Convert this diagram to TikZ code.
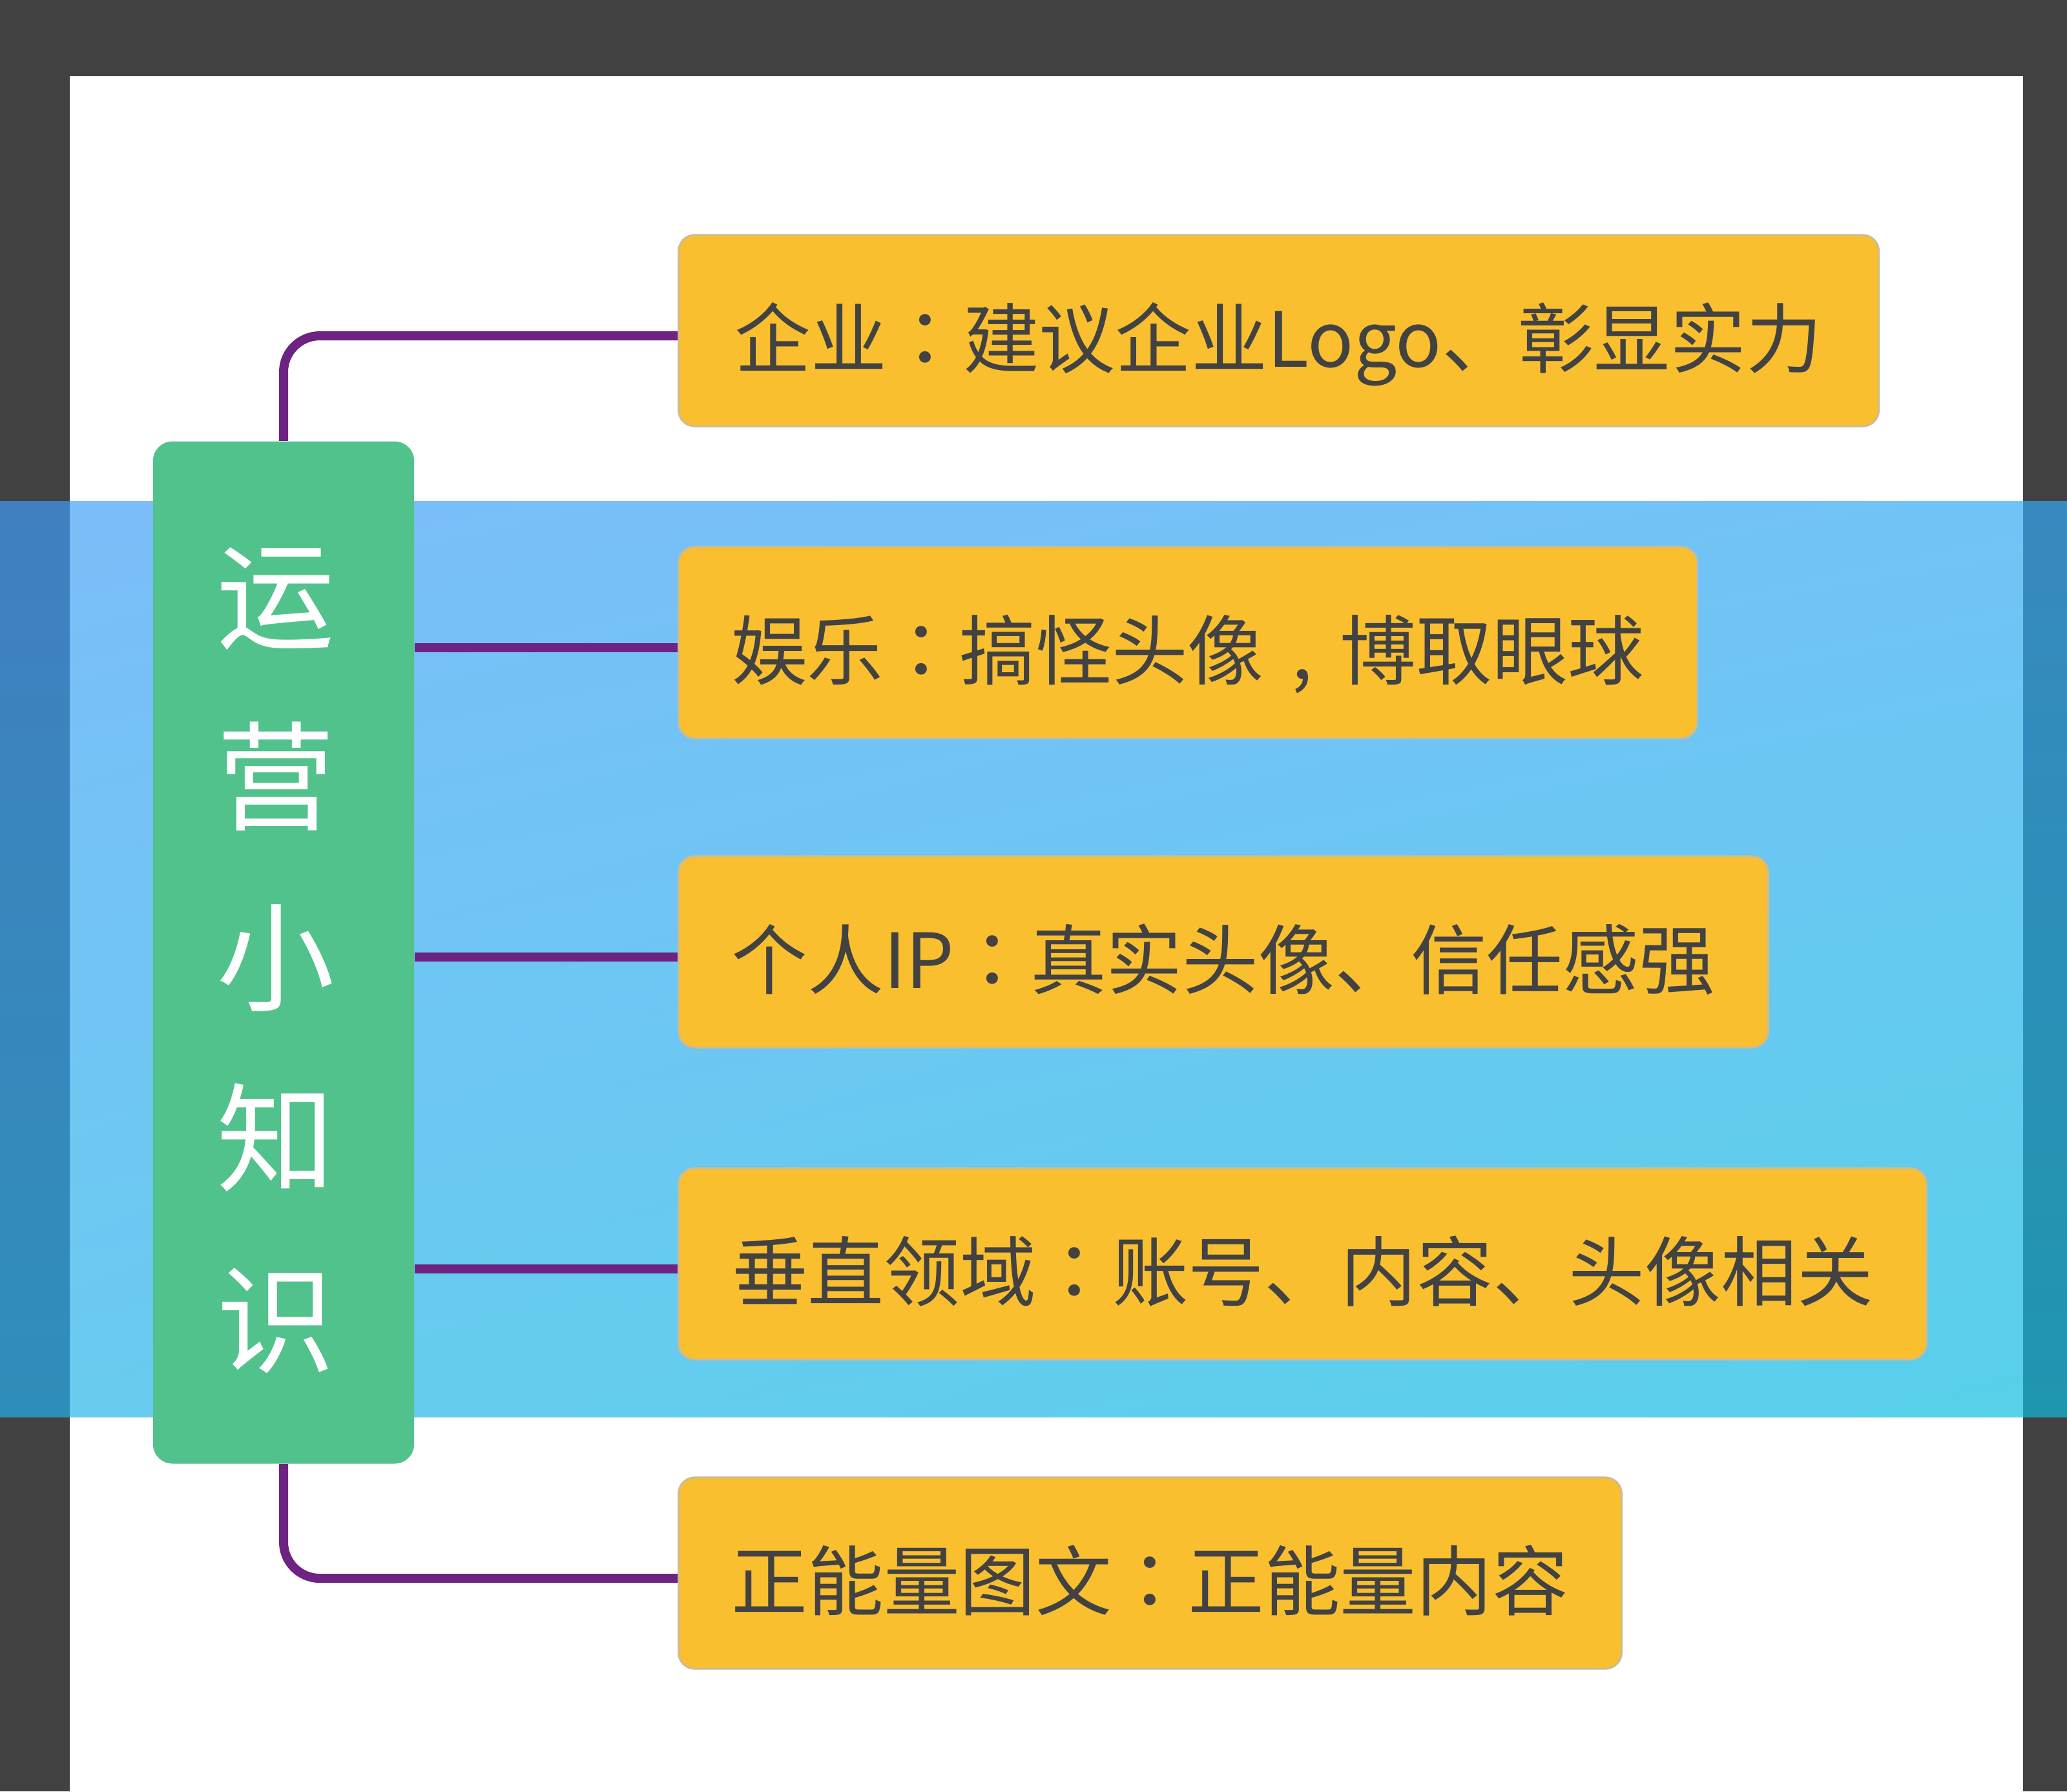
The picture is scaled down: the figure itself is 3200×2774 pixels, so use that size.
\documentclass[tikz,border=0pt]{standalone}
\usepackage{fontspec}
\usetikzlibrary{shadings}
\newfontfamily\cjk{Noto Sans CJK SC}
\newfontfamily\cjktc{Noto Sans CJK TC}
\newcommand{\cc}{{\cjktc ：}}
\newcommand{\ccomma}{\makebox[1em][c]{,}}
\definecolor{darkbg}{HTML}{414141}
\definecolor{greenfill}{HTML}{52C28C}
\definecolor{orangefill}{HTML}{F9BF2F}
\definecolor{boxline}{HTML}{CDBB94}
\definecolor{linepurple}{HTML}{6E2282}
\definecolor{textgray}{HTML}{424242}
\definecolor{bandUL}{HTML}{7BBDF9}
\definecolor{bandUR}{HTML}{72C3F5}
\definecolor{bandLL}{HTML}{69CBF0}
\definecolor{bandLR}{HTML}{57D0EA}
\definecolor{sideLT}{HTML}{4080C0}
\definecolor{sideLB}{HTML}{2F8EB9}
\definecolor{sideRT}{HTML}{3889BF}
\definecolor{sideRB}{HTML}{1F96B0}
\begin{document}
\begin{tikzpicture}[x=0.01cm,y=-0.01cm,
  rootbox/.style={fill=greenfill, rounded corners=0.3cm, minimum width=4.04cm, minimum height=15.82cm, inner sep=0pt},
  roottext/.style={align=center, text=white, inner sep=0pt, font=\cjk\fontsize{52}{79.7}\selectfont},
  leaf/.style={draw=boxline, line width=0.03cm, fill=orangefill, rounded corners=0.25cm, minimum height=2.96cm, inner sep=0pt, text height=38pt, text depth=6pt, anchor=west, text=textgray, font=\cjk\fontsize{33.5}{40}\selectfont},
  conn/.style={draw=linepurple, line width=0.14cm}]
\useasboundingbox (0,0) rectangle (3200,2774);
\fill[darkbg] (0,0) rectangle (3200,2774);
\fill[white] (108,118) rectangle (3132,2774);
\shade[top color=sideLT, bottom color=sideLB] (0,776) rectangle (108,2194);
\shade[upper left=bandUL, upper right=bandUR, lower left=bandLL, lower right=bandLR] (108,776) rectangle (3132,2194);
\shade[top color=sideRT, bottom color=sideRB] (3132,776) rectangle (3200,2194);
\node[rootbox, label={[roottext, xshift=-0.12cm, yshift=-0.12cm]center:运\\营\\小\\知\\识}] (g) at (439,1475) {};
\node[leaf, minimum width=18.57cm] (b1) at (1049,512) {企业\cc 建议企业Logo、彰显实力};
\node[leaf, minimum width=15.76cm] (b2) at (1049,995) {娱乐\cc 搞怪头像\ccomma 博取眼球};
\node[leaf, minimum width=16.86cm] (b3) at (1049,1474) {个人IP\cc 真实头像、信任感强};
\node[leaf, minimum width=19.31cm] (b4) at (1049,1957) {垂直领域\cc 账号、内容、头像相关};
\node[leaf, minimum width=14.59cm] (b5) at (1049,2436) {正能量图文\cc 正能量内容};
\coordinate (p1) at ([yshift=-0.08cm]b1.west);
\coordinate (p2) at ([yshift=-0.08cm]b2.west);
\coordinate (p3) at ([yshift=-0.08cm]b3.west);
\coordinate (p4) at ([yshift=-0.08cm]b4.west);
\coordinate (p5) at ([yshift=-0.08cm]b5.west);
\draw[conn, rounded corners=0.56cm] (g.north) |- (p1);
\draw[conn] (g.east |- p2) -- (p2);
\draw[conn] (g.east |- p3) -- (p3);
\draw[conn] (g.east |- p4) -- (p4);
\draw[conn, rounded corners=0.56cm] (g.south) |- (p5);
\end{tikzpicture}
\end{document}
